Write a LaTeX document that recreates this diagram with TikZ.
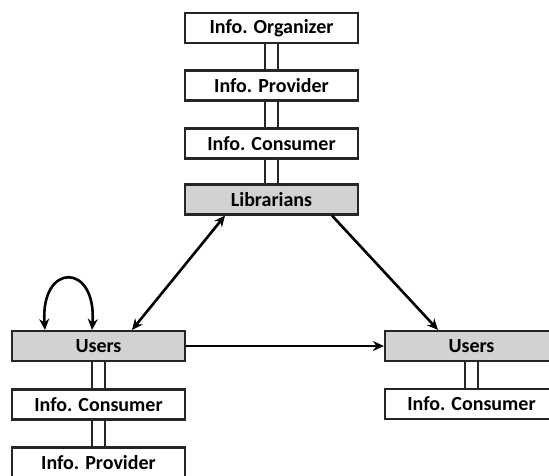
\documentclass[tikz,border=0pt]{standalone}
\usepackage{fontspec}
\setmainfont{Carlito}
\usetikzlibrary{arrows.meta,calc}
\definecolor{boxgrey}{RGB}{210,210,210}
\tikzset{
  rolebox/.style={draw=black!85, line width=2.2pt, fill=white, minimum width=173pt, minimum height=30pt, inner sep=0pt, font=\fontsize{20}{22}\selectfont\bfseries},
  greybox/.style={rolebox, fill=boxgrey},
  link/.style={draw=black!85, line width=2.2pt, double=white, double distance=10.5pt},
  arr/.style={line width=2.6pt, -{Stealth[length=11pt,width=10pt]}},
  darr/.style={line width=2.6pt, {Stealth[length=11pt,width=10pt]}-{Stealth[length=11pt,width=10pt]}}
}
\begin{document}
\begin{tikzpicture}[x=1pt,y=-1pt]
\useasboundingbox (0,0) rectangle (549,475);
\node[rolebox] (org) at (271.5,28) {Info. Organizer};
\node[rolebox] (prov) at (271.5,85.5) {Info. Provider};
\node[rolebox] (cons) at (271.5,143.5) {Info. Consumer};
\node[greybox] (lib) at (271.5,199.5) {Librarians};
\node[greybox] (uL) at (98.5,346) {Users};
\node[rolebox] (cL) at (98.5,404.5) {Info. Consumer};
\node[rolebox] (pL) at (98.5,462.5) {Info. Provider};
\node[greybox] (uR) at (471.5,346) {Users};
\node[rolebox] (cR) at (471.5,404) {Info. Consumer};
\draw[link] (org.south) -- (prov.north);
\draw[link] (prov.south) -- (cons.north);
\draw[link] (cons.south) -- (lib.north);
\draw[link] (uL.south) -- (cL.north);
\draw[link] (cL.south) -- (pL.north);
\draw[link] (uR.south) -- (cR.north);
\draw[darr] ($(lib.south)+(-46.5,0)$) -- ($(uL.north)+(33.5,0)$);
\draw[arr] ($(lib.south)+(60.5,0)$) -- ($(uR.north)+(-33.5,0)$);
\draw[arr] (uL.east) -- (uR.west);
\coordinate (la) at ($(uL.north)+(-53.5,0)$);
\coordinate (lb) at ($(uL.north)+(-6.5,0)$);
\draw[darr] (la) .. controls ($(la)+(-5,-68)$) and ($(lb)+(5,-68)$) .. (lb);
\end{tikzpicture}
\end{document}
